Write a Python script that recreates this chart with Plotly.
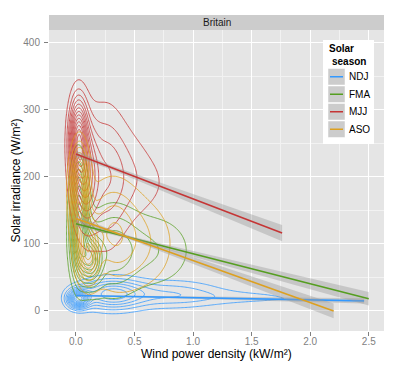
import numpy as np
import plotly.graph_objects as go

# seasons, in legend order
seasons = ["NDJ", "FMA", "MJJ", "ASO"]
colors = ["#3399FF", "#559E20", "#C53535", "#DDA020"]

# density blobs: centre x, centre y, spread x, spread y, weight
ndj_blobs = dict(x=[0.02, 0.3, 0.8, 1.5, 2.2], y=[18, 25, 25, 20, 17],
                 sx=[0.06, 0.18, 0.3, 0.4, 0.25], sy=[9, 15, 14, 8, 3], w=[1.0, 0.55, 0.25, 0.1, 0.05])
fma_blobs = dict(x=[0.03, 0.13, 0.3, 0.65, 0.02], y=[120, 75, 90, 90, 200],
                 sx=[0.05, 0.06, 0.15, 0.25, 0.04], sy=[45, 25, 45, 40, 30], w=[1.0, 0.7, 0.3, 0.2, 0.3])
mjj_blobs = dict(x=[0.02, 0.08, 0.25, 0.45, 0.7], y=[255, 200, 200, 200, 190],
                 sx=[0.05, 0.07, 0.12, 0.15, 0.15], sy=[40, 50, 70, 50, 35], w=[1.0, 0.6, 0.3, 0.15, 0.06])
aso_blobs = dict(x=[0.03, 0.1, 0.3, 0.55], y=[180, 90, 120, 100],
                 sx=[0.05, 0.06, 0.15, 0.22], sy=[40, 30, 50, 50], w=[1.0, 0.7, 0.3, 0.18])
blobs = [ndj_blobs, fma_blobs, mjj_blobs, aso_blobs]
n_levels = [12, 10, 13, 10]

# linear fits: x at start / middle / end, fitted y, and half-width of the confidence band
fit_x = [[0.0, 0.3, 2.46], [0.0, 0.4, 2.5], [0.0, 0.3, 1.76], [0.0, 0.35, 2.2]]
fit_y = [[23, 22, 15], [130, 112, 18], [234, 214, 116], [138, 116, 0]]
fit_se = [[2, 1, 4], [4, 2, 10], [5, 3, 12], [4, 2, 11]]

x_range = [-0.23, 2.63]
y_range = [-30, 419]

fig = go.Figure()

gx = np.linspace(-0.3, 2.7, 260)
gy = np.linspace(-40, 420, 260)
GX, GY = np.meshgrid(gx, gy)

for name, col, b, nl in zip(seasons, colors, blobs, n_levels):
    z = np.zeros_like(GX)
    for bx, by, sx, sy, w in zip(b["x"], b["y"], b["sx"], b["sy"], b["w"]):
        z += w * np.exp(-0.5 * (((GX - bx) / sx) ** 2 + ((GY - by) / sy) ** 2))
    z = z / z.max()
    step = 1.0 / (nl + 1)
    fig.add_trace(go.Contour(
        x=gx, y=gy, z=z,
        contours=dict(coloring="lines", start=step, end=1 - step / 2, size=step),
        colorscale=[[0, col], [1, col]], showscale=False,
        line=dict(width=0.8), hoverinfo="skip", showlegend=False,
    ))

for name, col, fx, fy, se in zip(seasons, colors, fit_x, fit_y, fit_se):
    upper = [y + s for y, s in zip(fy, se)]
    lower = [y - s for y, s in zip(fy, se)]
    fig.add_trace(go.Scatter(
        x=fx + fx[::-1], y=upper + lower[::-1], mode="lines", fill="toself",
        fillcolor="rgba(153,153,153,0.4)", line=dict(width=0),
        hoverinfo="skip", showlegend=False,
    ))
    fig.add_trace(go.Scatter(
        x=fx, y=fy, mode="lines", line=dict(color=col, width=1.6),
        name=name, showlegend=False,
    ))

# plot area in pixels: left 49, right 384, top 30, bottom 331
W, H = 399, 370
L, R, T, B = 49, 15, 30, 39
pw, ph = W - L - R, H - T - B


def px(x):
    return (x - L) / pw


def py(y):
    return (H - B - y) / ph


shapes = [
    # facet strip
    dict(type="rect", xref="paper", yref="paper", x0=0, x1=1, y0=1, y1=py(15),
         fillcolor="#CCCCCC", line=dict(width=0)),
    # legend box
    dict(type="rect", xref="paper", yref="paper", x0=px(323), x1=px(374), y0=py(144), y1=py(40),
         fillcolor="white", line=dict(width=0), layer="above"),
]
annotations = [
    dict(text="Britain", x=0.5, y=py(22.5), xref="paper", yref="paper", showarrow=False,
         yanchor="middle", font=dict(size=10, color="#1A1A1A")),
    dict(text="Wind power density (kW/m²)", x=px(216), y=py(354), xref="paper", yref="paper",
         showarrow=False, yanchor="middle", font=dict(size=12, color="black")),
    dict(text="Solar irradiance (W/m²)", x=px(15), y=0.5, xref="paper", yref="paper",
         showarrow=False, textangle=-90, xanchor="center", yanchor="middle",
         font=dict(size=12, color="black")),
    dict(text="<b>Solar</b>", x=px(327), y=py(49), xref="paper", yref="paper", showarrow=False,
         xanchor="left", yanchor="middle", font=dict(size=10, color="black")),
    dict(text="<b>season</b>", x=px(330), y=py(61), xref="paper", yref="paper", showarrow=False,
         xanchor="left", yanchor="middle", font=dict(size=10, color="black")),
]
key_top = 68
key_h = 17.5
for i, (name, col) in enumerate(zip(seasons, colors)):
    t = key_top + i * key_h
    shapes.append(dict(type="rect", xref="paper", yref="paper", x0=px(328), x1=px(345),
                       y0=py(t + key_h - 0.5), y1=py(t + 0.5), fillcolor="#CCCCCC",
                       line=dict(color="white", width=0.5), layer="above"))
    shapes.append(dict(type="line", xref="paper", yref="paper", x0=px(330), x1=px(343),
                       y0=py(t + key_h / 2), y1=py(t + key_h / 2),
                       line=dict(color=col, width=1.5), layer="above"))
    annotations.append(dict(text=name, x=px(347), y=py(t + key_h / 2), xref="paper", yref="paper",
                            showarrow=False, xanchor="left", yanchor="middle",
                            font=dict(size=10, color="black")))

axis_common = dict(
    showgrid=True, gridcolor="white", gridwidth=1, zeroline=False, automargin=False,
    ticks="outside", ticklen=4, tickcolor="#7F7F7F", tickwidth=1,
    tickfont=dict(size=10, color="#7F7F7F"), showline=False,
)

fig.update_layout(
    width=W, height=H,
    margin=dict(l=L, r=R, t=T, b=B),
    paper_bgcolor="white", plot_bgcolor="#E5E5E5",
    font=dict(family="Liberation Sans, Arial, sans-serif", color="black"),
    showlegend=False,
    shapes=shapes, annotations=annotations,
    xaxis=dict(range=x_range, tickvals=[0, 0.5, 1, 1.5, 2, 2.5],
               ticktext=["0.0", "0.5", "1.0", "1.5", "2.0", "2.5"],
               minor=dict(dtick=0.25, tick0=0, showgrid=True, gridcolor="#F2F2F2", gridwidth=0.5),
               ticklabelstandoff=-3, **axis_common),
    yaxis=dict(range=y_range, tickvals=[0, 100, 200, 300, 400],
               minor=dict(dtick=50, tick0=0, showgrid=True, gridcolor="#F2F2F2", gridwidth=0.5),
               ticklabelstandoff=2, **axis_common),
)

fig.write_html("out.html", config={"displayModeBar": False},
               post_script="document.body.style.margin='0';")
